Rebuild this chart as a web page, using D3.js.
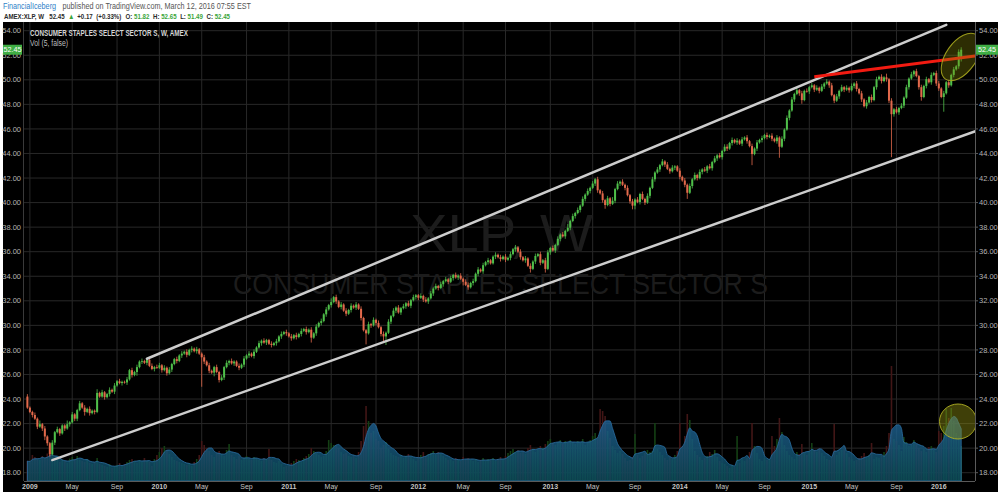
<!DOCTYPE html>
<html><head><meta charset="utf-8">
<script src="https://cdnjs.cloudflare.com/ajax/libs/d3/7.8.5/d3.min.js"></script>
<style>html,body{margin:0;padding:0;background:#fff;overflow:hidden}svg{display:block}</style>
</head><body><svg id="c" width="1000" height="495"></svg>
<script>
// ---------------- DATA ----------------
const firstBarDate = "2008-12-29";   // weekly bars, one per Monday
const priorClose = 24.20;
const quote = {symbol:"AMEX:XLP, W", last:"52.45", chg:"+0.17", pct:"(+0.33%)", O:51.82, H:52.65, L:51.49, C:52.45};

const close09 = [23.30,22.95,22.70,22.40,21.75,21.95,21.60,20.95,20.40,19.50,
 20.45,21.30,21.55,21.20,21.85,21.60,21.95,22.10,22.75,22.40,
 23.10,23.65,23.30,22.95,23.20,22.85,23.05,22.95,24.50,24.20,
 24.55,24.15,24.40,24.75,24.60,25.10,25.45,25.30,25.40,25.35,
 25.60,26.35,25.95,26.20,26.60,27.05,27.10,26.95,27.20,26.70,
 26.45,26.60,26.55];
const close10 = [26.75,26.35,26.55,26.10,26.40,26.85,27.25,27.10,27.55,27.70,
 27.85,27.60,28.00,28.10,27.90,28.05,27.70,27.40,27.05,26.75,
 26.30,26.15,26.60,26.20,25.55,25.75,26.60,26.95,27.10,26.90,
 27.05,26.70,26.55,26.80,27.30,27.55,27.70,27.50,27.85,28.20,
 28.55,28.75,28.60,28.80,28.50,28.40,28.55,28.70,29.10,29.30,
 29.45,29.35];
const close11 = [29.10,28.95,29.20,29.05,29.30,29.55,29.70,29.45,29.65,29.00,
 29.35,29.90,30.20,30.35,30.90,31.30,31.65,31.90,32.30,31.95,
 31.50,31.70,31.20,30.95,31.25,31.60,31.45,31.70,31.35,30.60,
 29.60,29.35,30.10,30.00,30.45,30.20,29.85,29.30,29.10,29.40,
 30.30,30.75,31.20,31.45,31.05,31.40,31.55,31.80,31.60,32.05,
 32.30,32.45];
const close12 = [32.25,32.40,32.10,31.95,32.20,32.60,33.00,33.20,33.05,33.35,
 33.60,33.75,33.55,33.85,34.10,33.90,34.05,33.80,33.55,33.30,
 33.10,33.45,33.60,34.20,34.55,34.40,34.90,35.15,35.30,35.05,
 35.60,35.75,35.55,35.40,35.60,35.35,35.50,35.80,36.20,36.35,
 36.00,35.55,35.30,35.45,34.85,34.60,35.20,35.65,35.80,35.10,
 35.30,34.60];
const close13 = [35.95,36.30,36.10,36.55,37.05,37.40,37.25,37.70,37.95,38.50,
 38.90,39.15,39.40,39.75,40.30,40.65,40.95,41.20,41.55,41.90,
 41.00,40.75,40.20,39.80,40.35,39.90,40.15,41.10,41.55,41.70,
 41.45,41.20,40.60,40.10,39.75,40.25,40.05,40.70,40.30,40.00,
 40.55,41.20,41.90,42.45,42.70,43.05,43.35,43.10,42.75,42.55,
 42.85,42.95];
const close14 = [42.60,42.10,41.80,41.45,40.80,41.35,41.90,42.25,42.00,42.50,
 42.70,42.60,42.95,42.80,43.30,43.60,43.85,43.70,44.20,44.55,
 44.40,44.85,45.10,44.90,45.05,44.80,45.15,45.30,45.00,44.60,
 43.95,44.40,44.90,45.10,45.25,45.50,45.35,45.45,45.20,45.00,
 45.30,44.55,45.20,45.95,46.90,47.50,48.40,48.85,49.15,48.90,
 48.35,49.10];
const close15 = [49.05,49.40,49.55,49.20,49.35,49.10,49.45,49.70,49.85,49.55,
 48.75,48.30,48.65,49.10,49.40,49.20,49.35,49.15,49.50,49.70,
 49.25,48.90,48.40,47.85,48.15,48.60,48.35,49.40,50.05,50.25,
 49.90,50.20,50.05,48.30,47.20,47.60,47.35,47.70,47.90,48.55,
 49.40,50.10,50.45,50.70,50.30,49.40,48.60,49.50,50.05,49.80,
 50.40,50.55,49.70];
const close16 = [49.30,48.60,48.90,49.80,49.55,50.40,50.85,51.10,52.28,52.45];

// wick lengths above / below the body, in tenths of a dollar (base-36 digits)
const wickUp = [
 "2112131211 2121113121 1212121131 2112121211 2121212111 212",
 "2121211212 1212121121 2112121212 1121212121 2121121212 12",
 "1212121212 1212121312 1212121212 1121212121 2121212121 21",
 "1212121212 1212121212 2121212121 1212121212 1212121212 12",
 "2121212131 2121212121 2121213121 2121212121 2121212121 21",
 "1212121212 1212121212 2121212121 2121212121 2121212121 21",
 "2121212121 2121212121 2121212121 2131212121 2121212121 212",
 "2121212122"];
const wickDown = [
 "1121212322 1212121212 2113121211 1212121121 2121312121 121",
 "1212121212 1212121o21 2131212121 2121212121 1212121212 12",
 "1212121214 1212121212 1212121212 1912121247 1212121212 12",
 "2121212121 2121212131 2121212121 1212121212 1212131212 13",
 "1212121212 1212121212 2123121212 1212331212 1212121212 12",
 "1212512121 2121212121 2121212121 9121212121 2912121212 31",
 "1212121212 1212121212 2121212121 2122z21212 1212123121 212",
 "21c1212123"];

// weekly volume, millions of shares
const vol09 = [40,38,52,48,45,42,50,46,55,62, 48,40,44,38,42,40,36,45,48,44, 50,42,40,38,44,36,34,38,46,34,
 32,30,28,34,26,30,32,36,30,34, 38,42,44,40,36,42,38,46,40,38, 30,44,52];
const vol10 = [58,66,70,62,54,48,42,40,38,36, 34,32,36,30,38,44,52,80,72,66, 60,52,48,56,60,54,50,62,74,52,
 48,44,50,42,46,50,44,42,48,46, 42,40,46,44,64,42,38,36,40,34, 28,30];
const vol11 = [30,36,40,44,42,38,46,50,54,66, 60,56,52,48,50,60,82,76,72,70, 66,58,54,56,50,48,52,46,58,80,
 110,150,120,96,100,84,80,66,72,78, 64,56,52,50,48,52,46,50,54,48, 44,40];
const vol12 = [48,52,58,50,54,56,60,52,58,54, 50,46,42,44,40,46,42,40,48,44, 46,42,40,44,38,42,46,40,44,42,
 46,40,44,48,42,50,56,60,64,58, 62,56,60,54,66,72,64,58,62,70, 66,74];
const vol13 = [80,84,76,72,78,82,74,80,76,82, 78,74,80,76,84,72,78,82,90,96, 88,144,140,130,100,86,70,62,56,60,
 54,46,40,42,48,94,52,46,50,56, 62,58,60,116,64,58,52,46,42,48, 44,52];
const vol14 = [60,116,70,90,134,122,84,60,52,48, 42,46,50,58,54,62,48,40,36,34, 30,26,32,28,90,36,44,40,46,58,
 116,70,56,44,40,46,42,44,90,70, 84,126,98,72,60,52,48,44,58,54, 74,56];
const vol15 = [52,60,76,62,58,66,56,50,44,42, 48,114,52,58,62,70,56,48,44,40, 42,46,50,56,48,52,76,44,48,46,
 52,58,70,96,230,84,80,72,60,88, 78,70,72,82,74,66,60,64,58,68, 70,62,58];
const vol16 = [100,96,110,144,126,146,120,96,90,70];
const volMaLength = 5;

const yTicks = [18,20,22,24,26,28,30,32,34,36,38,40,42,44,46,48,50,52,54];
const xTickDates = ["2009-01-05","2009-05-04","2009-09-07","2010-01-04","2010-05-03","2010-09-06",
 "2011-01-03","2011-05-02","2011-09-05","2012-01-02","2012-05-07","2012-09-03","2013-01-07","2013-05-06",
 "2013-09-02","2014-01-06","2014-05-05","2014-09-01","2015-01-05","2015-05-04","2015-09-07","2016-01-04"];
const xTickLabels = ["2009","May","Sep","2010","May","Sep","2011","May","Sep","2012","May","Sep",
 "2013","May","Sep","2014","May","Sep","2015","May","Sep","2016"];

// drawings: [date, price]
const upperChannel = [["2009-11-30",27.28],["2016-01-25",54.48]];
const lowerChannel = [["2009-03-09",19.03],["2016-04-18",45.83]];
const resistance   = [["2015-01-19",50.25],["2016-04-18",51.95]];

// ---------------- BUILD ----------------
const D = s => new Date(s+"T00:00:00Z");
const closes = [].concat(close09,close10,close11,close12,close13,close14,close15,close16);
const vols = [].concat(vol09,vol10,vol11,vol12,vol13,vol14,vol15,vol16);
const digits = arr => [].concat(...arr.map(s=>s.replace(/\s+/g,"").split("").map(ch=>parseInt(ch,36)/10)));
const wU = digits(wickUp), wD = digits(wickDown);
const t0 = D(firstBarDate).getTime();
const bars = closes.map((c,i)=>{
  const o = i===0 ? priorClose : closes[i-1];
  return {date:new Date(t0+i*7*864e5), o, c, h:Math.max(o,c)+wU[i], l:Math.min(o,c)-wD[i], v:vols[i]};
});
const last = bars[bars.length-1];
Object.assign(last,{o:quote.O,h:quote.H,l:quote.L,c:quote.C});
bars.forEach((b,i)=>{
  const s = bars.slice(Math.max(0,i-volMaLength+1),i+1);
  b.ma = d3.mean(s,d=>d.v);
});

const svg = d3.select("#c");
const P = {l:24, r:975, t:22, b:481};
const x = d3.scaleUtc().domain([bars[0].date, last.date]).range([27.4, 961.2]);
const y = d3.scaleLinear().domain([18,54]).range([472.7,30.7]);
const vy = d3.scaleLinear().domain([0,100]).range([P.b, P.b-50]);
const UP = "#4fbf4a", DN = "#e2694b", GRID = "#282828", TXT="#b4b4b4";
const FONT = "'Liberation Sans', Arial, sans-serif";

svg.append("rect").attr("width",1000).attr("height",495).attr("fill","#ffffff");
svg.append("rect").attr("x",3).attr("y",22).attr("width",995).attr("height",470).attr("fill","#000");

// header: sequential text pieces squeezed to the reference width
// third field: 0 = no gap, 1 = word space, 2 = hair gap
function seqText(parts, x0, yb, total, size, weight){
  const els = parts.map(([t,c])=>svg.append("text").attr("y",yb).attr("font-family",FONT)
    .attr("font-size",size).attr("font-weight",weight).attr("fill",c).text(t));
  const nat = els.map(e=>e.node().getComputedTextLength());
  const gaps = parts.map(p=>p[2]===1?size*0.4:p[2]===2?size*0.2:0);
  const k = total/(d3.sum(nat)+d3.sum(gaps));
  let cx = x0;
  els.forEach((e,i)=>{
    cx += gaps[i]*k;
    e.attr("x",cx).attr("textLength",nat[i]*k*0.94).attr("lengthAdjust","spacingAndGlyphs");
    cx += nat[i]*k;
  });
}
const G2 = "#3aa53a", K2="#2a2a2a";
seqText([["FinancialIceberg","#2f7fc8",0],["published on TradingView.com, March 12, 2016 07:55 EST","#555",1]],
  3, 8.8, 260, 8.3, "normal");
seqText([[quote.symbol,K2,0],[quote.last,K2,1],["▲",G2,1],[quote.chg,K2,1],[quote.pct,K2,1],
 ["O:",K2,1],[quote.O.toFixed(2),G2,2],["H:",K2,1],[quote.H.toFixed(2),G2,2],["L:",K2,1],[quote.L.toFixed(2),G2,2],
 ["C:",K2,1],[quote.C.toFixed(2),G2,2]], 4, 18.8, 227, 7.8, "bold");

// clip
const defs = svg.append("defs");
defs.append("clipPath").attr("id","pc").append("rect")
  .attr("x",P.l).attr("y",P.t).attr("width",P.r-P.l).attr("height",P.b-P.t);
const grad = defs.append("linearGradient").attr("id","vg")
  .attr("gradientUnits","userSpaceOnUse").attr("x1",0).attr("x2",0).attr("y1",405).attr("y2",P.b);
grad.append("stop").attr("offset",0).attr("stop-color","#2466a0");
grad.append("stop").attr("offset",1).attr("stop-color","#0b4a5c");

// grid
const grid = svg.append("g");
grid.selectAll(".hg").data(yTicks).join("line").attr("x1",P.l).attr("x2",P.r)
  .attr("y1",d=>y(d)).attr("y2",d=>y(d)).attr("stroke",GRID).attr("stroke-width",1);
grid.selectAll(".vg").data(xTickDates).join("line").attr("y1",P.t).attr("y2",P.b)
  .attr("x1",d=>x(D(d))).attr("x2",d=>x(D(d))).attr("stroke",GRID).attr("stroke-width",1);

const pg = svg.append("g").attr("clip-path","url(#pc)");
// watermark
pg.append("text").attr("x",410).attr("y",252).attr("font-family",FONT).attr("font-size",54)
  .attr("fill","#1c1c1c").attr("textLength",183).attr("lengthAdjust","spacingAndGlyphs").text("XLP, W");
pg.append("text").attr("x",233).attr("y",293.5).attr("font-family",FONT).attr("font-size",30)
  .attr("fill","#1c1c1c").attr("textLength",535).attr("lengthAdjust","spacingAndGlyphs").text("CONSUMER STAPLES SELECT SECTOR S");

// volume
pg.selectAll(".vb").data(bars).join("rect")
  .attr("x",d=>x(d.date)-0.8).attr("width",1.6)
  .attr("y",d=>vy(d.v)).attr("height",d=>P.b-vy(d.v))
  .attr("fill",d=>d.c>=d.o?"#143f14":"#421616");
pg.append("path").datum(bars)
  .attr("d",d3.area().x(d=>x(d.date)).y0(P.b).y1(d=>vy(d.ma)).curve(d3.curveMonotoneX))
  .attr("fill","url(#vg)").attr("fill-opacity",0.82)
  .attr("stroke","#2b6fa3").attr("stroke-width",0.8);

// candles
pg.selectAll(".wk").data(bars).join("line")
  .attr("x1",d=>x(d.date)).attr("x2",d=>x(d.date)).attr("y1",d=>y(d.h)).attr("y2",d=>y(d.l))
  .attr("stroke",d=>d.c>=d.o?UP:DN).attr("stroke-width",0.8);
pg.selectAll(".bd").data(bars).join("rect")
  .attr("x",d=>x(d.date)-1).attr("width",2)
  .attr("y",d=>y(Math.max(d.o,d.c))).attr("height",d=>Math.max(0.8,Math.abs(y(d.o)-y(d.c))))
  .attr("fill",d=>d.c>=d.o?UP:DN);

// drawings
const ln = d3.line().x(d=>x(D(d[0]))).y(d=>y(d[1]));
[upperChannel,lowerChannel].forEach(l=>pg.append("path").attr("d",ln(l)).attr("stroke","#cdcdcd")
  .attr("stroke-width",2.5).attr("fill","none").attr("stroke-linecap","round"));
pg.append("path").attr("d",ln(resistance)).attr("stroke","#f21b12").attr("stroke-width",2.8).attr("fill","none");
pg.append("ellipse").attr("cx",961).attr("cy",57).attr("rx",27).attr("ry",15)
  .attr("transform","rotate(-55 961 57)")
  .attr("fill","rgba(140,140,10,0.32)").attr("stroke","rgba(170,170,30,0.9)").attr("stroke-width",1);
pg.append("ellipse").attr("cx",958).attr("cy",421.5).attr("rx",18.5).attr("ry",17.5)
  .attr("fill","rgba(150,150,20,0.42)").attr("stroke","rgba(175,175,35,0.9)").attr("stroke-width",1);

// titles
svg.append("text").attr("x",30).attr("y",35.5).attr("font-family",FONT).attr("font-size",8.3).attr("font-weight","bold")
  .attr("fill","#d6d6d6").attr("textLength",158).attr("lengthAdjust","spacingAndGlyphs")
  .text("CONSUMER STAPLES SELECT SECTOR S, W, AMEX");
svg.append("text").attr("x",30).attr("y",45.5).attr("font-family",FONT).attr("font-size",8.3)
  .attr("fill","#bdbdbd").attr("textLength",38).attr("lengthAdjust","spacingAndGlyphs").text("Vol (5, false)");

// axes lines
svg.append("line").attr("x1",P.r+0.5).attr("x2",P.r+0.5).attr("y1",P.t).attr("y2",P.b).attr("stroke","#5a5a5a");
svg.append("line").attr("x1",P.l-0.5).attr("x2",P.l-0.5).attr("y1",P.t).attr("y2",P.b).attr("stroke","#3a3a3a");
svg.append("line").attr("x1",P.l).attr("x2",P.r).attr("y1",P.b+0.5).attr("y2",P.b+0.5).attr("stroke","#5a5a5a");

// y labels
const yl = svg.append("g").attr("font-family",FONT).attr("font-size",7.5).attr("fill",TXT);
yl.selectAll(".r").data(yTicks).join("text").attr("x",979).attr("y",d=>y(d)+2.6).text(d=>d.toFixed(2));
yl.selectAll(".l").data(yTicks).join("text").attr("x",21).attr("text-anchor","end").attr("y",d=>y(d)+2.6).text(d=>d.toFixed(2));
svg.selectAll(".tk").data(yTicks).join("line").attr("x1",P.r).attr("x2",P.r+3)
  .attr("y1",d=>y(d)).attr("y2",d=>y(d)).attr("stroke","#5a5a5a");

// last price labels (drawn over the axis, partly hiding the 52.00 label as in the reference)
[[976,998],[3,22]].forEach(([a,b])=>{
  svg.append("rect").attr("x",a).attr("y",y(quote.C)-5).attr("width",b-a).attr("height",10).attr("fill","#3fae45");
  svg.append("text").attr("x",(a+b)/2).attr("y",y(quote.C)+2.5).attr("text-anchor","middle")
    .attr("font-family",FONT).attr("font-size",7.2).attr("fill","#fff").text(quote.C.toFixed(2));
});

// x labels
svg.append("g").selectAll("text").data(xTickDates).join("text")
  .attr("x",d=>x(D(d))).attr("y",488.5).attr("text-anchor","middle")
  .attr("font-family",FONT).attr("font-size",7).attr("fill","#c4c4c4")
  .attr("font-weight",(d,i)=>/^\d/.test(xTickLabels[i])?"bold":"normal")
  .text((d,i)=>xTickLabels[i]);
</script></body></html>
